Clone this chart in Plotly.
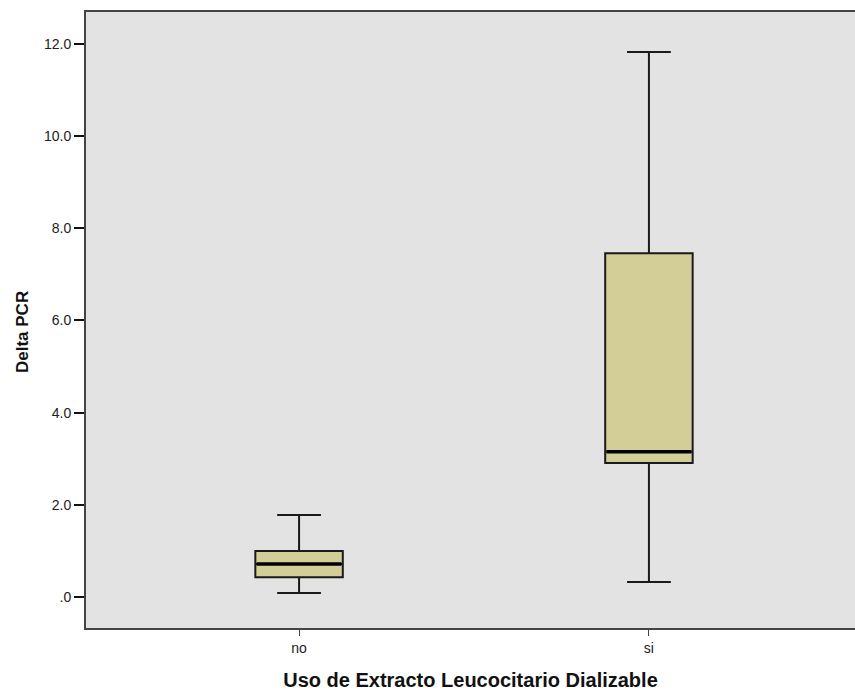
import plotly.graph_objects as go

categories = ["no", "si"]
lower_whisker = [0.09, 0.33]
q1 = [0.43, 2.91]
median = [0.72, 3.15]
q3 = [1.00, 7.46]
upper_whisker = [1.78, 11.82]
y_tick_values = [0, 2, 4, 6, 8, 10, 12]
y_tick_labels = [".0", "2.0", "4.0", "6.0", "8.0", "10.0", "12.0"]

box_width = 0.25
positions = list(range(len(categories)))

fig = go.Figure()
for i, cat in enumerate(categories):
    fig.add_trace(go.Box(
        x=[positions[i]],
        q1=[q1[i]], median=[median[i]], q3=[q3[i]],
        lowerfence=[lower_whisker[i]], upperfence=[upper_whisker[i]],
        width=box_width, whiskerwidth=0.5,
        fillcolor="#D3CE98",
        line=dict(color="#1a1a1a", width=2),
        boxpoints=False, name=cat, showlegend=False, hoverinfo="skip",
    ))
    fig.add_trace(go.Scatter(
        x=[positions[i] - box_width / 2 + 0.004, positions[i] + box_width / 2 - 0.004],
        y=[median[i], median[i]],
        mode="lines", line=dict(color="black", width=3.5),
        showlegend=False, hoverinfo="skip",
    ))

fig.update_layout(
    width=855, height=692,
    margin=dict(l=86, r=0, t=12, b=64, autoexpand=False),
    paper_bgcolor="white",
    plot_bgcolor="#E3E3E3",
    font=dict(family="Liberation Sans, Arial, sans-serif", color="#333333"),
    xaxis=dict(
        range=[-0.609, 1.589],
        tickvals=positions, ticktext=categories,
        showgrid=False, zeroline=False, automargin=False,
        showline=True, linecolor="#444444", linewidth=2, mirror=True,
        ticks="outside", ticklen=6, tickcolor="#444444", tickwidth=1,
        tickfont=dict(size=14, color="#222222"),
        title=dict(text="<b>Uso de Extracto Leucocitario Dializable</b>",
                   font=dict(size=20, color="#111111"), standoff=18),
    ),
    yaxis=dict(
        range=[-0.67, 12.69],
        tickvals=y_tick_values, ticktext=y_tick_labels,
        showgrid=False, zeroline=False, automargin=False,
        showline=True, linecolor="#444444", linewidth=2, mirror=False,
        ticks="outside", ticklen=10, tickcolor="#111111", tickwidth=2,
        ticklabelstandoff=0,
        tickfont=dict(size=14, color="#222222"),
    ),
    annotations=[dict(
        text="<b>Delta PCR</b>", textangle=-90,
        xref="paper", yref="paper", x=-0.0832, y=0.4805,
        xanchor="center", yanchor="middle", showarrow=False,
        font=dict(size=17, color="#111111"),
    )],
)

fig.write_html(
    "out.html",
    config={"displayModeBar": False},
    post_script="document.body.style.margin='0';document.body.style.overflow='hidden';",
)
